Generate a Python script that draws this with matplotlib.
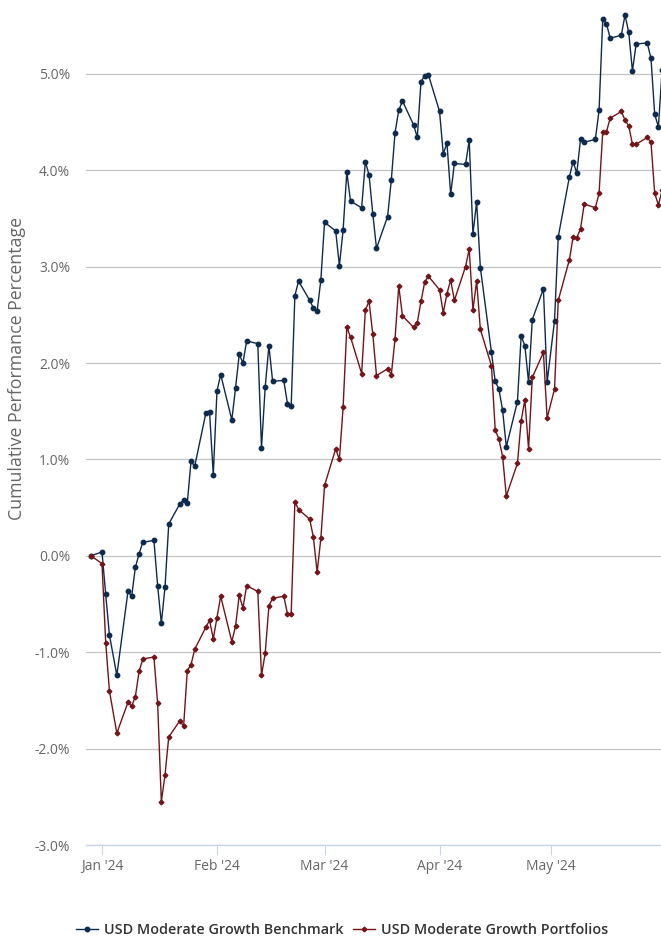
import numpy as np
import pandas as pd
import matplotlib
matplotlib.use('Agg')
import matplotlib.pyplot as plt
import matplotlib.dates as mdates

plt.rcParams['font.family'] = ['Open Sans', 'DejaVu Sans']

# trading days shown in the chart (weekdays, two days have no point)
missingDays = ['2024-01-04', '2024-05-01']
days = pd.bdate_range('2023-12-29', '2024-05-31')
days = days[~days.isin(pd.to_datetime(missingDays))]

benchmark = [0.00, 0.04, -0.40, -0.82, -1.24, -0.37, -0.42, -0.12, 0.02, 0.14,
             0.16, -0.31, -0.70, -0.32, 0.33, 0.54, 0.58, 0.55, 0.98, 0.93,
             1.48, 1.49, 0.84, 1.71, 1.88, 1.41, 1.74, 2.09, 2.00, 2.23,
             2.20, 1.12, 1.75, 2.18, 1.81, 1.82, 1.58, 1.55, 2.70, 2.85,
             2.65, 2.57, 2.54, 2.86, 3.46, 3.37, 3.01, 3.38, 3.98, 3.68,
             3.61, 4.09, 3.95, 3.55, 3.19, 3.52, 3.90, 4.39, 4.62, 4.72,
             4.47, 4.34, 4.92, 4.98, 4.99, 4.61, 4.17, 4.28, 3.75, 4.07,
             4.06, 4.31, 3.34, 3.67, 2.99, 2.11, 1.81, 1.73, 1.51, 1.13,
             1.60, 2.28, 2.18, 1.80, 2.45, 2.77, 1.80, 2.44, 3.31, 3.93,
             4.09, 3.97, 4.32, 4.29, 4.32, 4.62, 5.57, 5.52, 5.37, 5.40,
             5.61, 5.43, 5.03, 5.31, 5.32, 5.16, 4.58, 4.45, 5.04]

portfolios = [0.00, -0.08, -0.90, -1.40, -1.84, -1.52, -1.56, -1.46, -1.20, -1.07,
              -1.05, -1.53, -2.55, -2.27, -1.88, -1.71, -1.77, -1.19, -1.13, -0.97,
              -0.74, -0.67, -0.86, -0.64, -0.42, -0.89, -0.73, -0.41, -0.54, -0.31,
              -0.37, -1.24, -1.01, -0.52, -0.44, -0.42, -0.60, -0.60, 0.56, 0.48,
              0.38, 0.19, -0.17, 0.18, 0.73, 1.11, 1.00, 1.54, 2.37, 2.27,
              1.89, 2.55, 2.64, 2.30, 1.87, 1.94, 1.88, 2.25, 2.80, 2.49,
              2.37, 2.42, 2.64, 2.84, 2.90, 2.76, 2.52, 2.72, 2.86, 2.65,
              3.00, 3.18, 2.55, 2.85, 2.35, 1.97, 1.31, 1.21, 1.03, 0.62,
              0.96, 1.40, 1.62, 1.11, 1.85, 2.11, 1.43, 1.73, 2.65, 3.07,
              3.31, 3.30, 3.39, 3.65, 3.61, 3.76, 4.40, 4.40, 4.54, 4.61,
              4.52, 4.46, 4.27, 4.27, 4.34, 4.29, 3.76, 3.64, 3.79]

yTicks = [-3.0, -2.0, -1.0, 0.0, 1.0, 2.0, 3.0, 4.0, 5.0]
monthTicks = ['2024-01-01', '2024-02-01', '2024-03-01', '2024-04-01', '2024-05-01']

blue = '#0d2a4f'
red = '#731419'

fig = plt.figure(figsize=(6.61, 9.38), dpi=100)
ax = fig.add_axes([86/661, 1 - 845/938, 1 - 86/661, 845/938])

ax.plot(days, benchmark, color=blue, linewidth=1.0, marker='o', markersize=3.2,
        label='USD Moderate Growth Benchmark', zorder=3)
ax.plot(days, portfolios, color=red, linewidth=1.0, marker='D', markersize=2.4,
        label='USD Moderate Growth Portfolios', zorder=3)

start = pd.Timestamp('2024-01-01')
ax.set_xlim(start - pd.Timedelta(days=4.31), start + pd.Timedelta(days=150.7))
ax.set_ylim(-3.0, 5.766)

ax.set_yticks(yTicks)
ax.set_yticklabels(['%.1f%%' % v for v in yTicks])
ax.set_xticks(pd.to_datetime(monthTicks))
ax.xaxis.set_major_formatter(mdates.DateFormatter("%b '%y"))

ax.grid(axis='y', color='#c4c4c4', linewidth=0.9)
ax.set_axisbelow(True)
for s in ['top', 'right', 'left']:
    ax.spines[s].set_visible(False)
ax.spines['bottom'].set_color('#ccd6eb')
ax.spines['bottom'].set_linewidth(1.0)

ax.tick_params(axis='y', length=0, pad=11.5, labelsize=10, labelcolor='#666666')
ax.tick_params(axis='x', length=7, width=0.8, color='#ccd6eb', pad=3,
               labelsize=10, labelcolor='#666666')

fig.text(17/661, 1 - 368/938, 'Cumulative Performance Percentage', rotation=90,
         ha='center', va='center', fontsize=12.8, color='#666666')

fig.legend(loc='center', bbox_to_anchor=(342/661, 1 - 930/938), ncol=2,
           frameon=False, handlelength=1.5, columnspacing=0.7, handletextpad=0.4,
           prop={'size': 10.4, 'weight': 'semibold'}, labelcolor='#333333')

fig.savefig('out.png', dpi=100)
